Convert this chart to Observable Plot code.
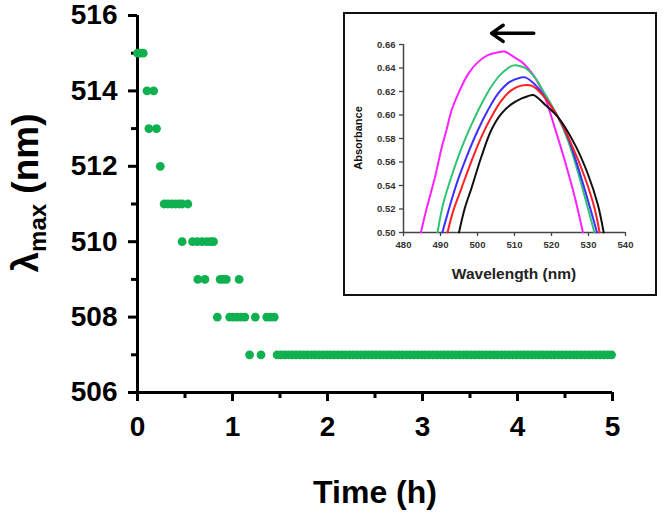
<!DOCTYPE html>
<html><head><meta charset="utf-8">
<script src="https://cdn.jsdelivr.net/npm/d3@7"></script>
<script src="https://cdn.jsdelivr.net/npm/@observablehq/plot@0.6"></script>
<style>
body{margin:0;background:#fff;overflow:hidden;}
#wrap{position:relative;width:664px;height:518px;overflow:hidden;font-family:Arial,"Liberation Sans",sans-serif;}
#main{position:absolute;left:0;top:0;width:664px;height:518px;z-index:1;}
#inset{position:absolute;left:343px;top:12px;width:310px;height:280px;border:2px solid #111;background:#fff;z-index:2;}
#inset svg,#main svg{display:block;}
</style></head><body>
<div id="wrap"><div id="inset"></div><div id="main"></div></div>
<script>
// ---- main chart data: time (h) at which each λmax (nm) was recorded ----
const lambdaValues = [515, 514, 513, 512, 511, 510, 509, 508, 507];
const times515 = [0.00, 0.03, 0.06];
const times514 = [0.10, 0.17];
const times513 = [0.12, 0.20];
const times512 = [0.24];
const times511 = [0.28, 0.32, 0.36, 0.40, 0.44, 0.47, 0.53];
const times510 = [0.47, 0.58, 0.63, 0.68, 0.73, 0.77, 0.80];
const times509 = [0.635, 0.71, 0.87, 0.90, 0.935, 1.07];
const times508 = [0.84, 0.97, 1.01, 1.05, 1.09, 1.13, 1.24, 1.36, 1.40, 1.44];
const times507 = [1.18, 1.30, 1.47,1.51,1.55,1.59,1.63,1.67,1.71,1.75,1.79,1.83,1.87,1.91,1.95,1.99,
  2.03,2.07,2.11,2.15,2.19,2.23,2.27,2.31,2.35,2.39,2.43,2.47,2.51,2.55,2.59,2.63,2.67,2.71,2.75,2.79,
  2.83,2.87,2.91,2.95,2.99,3.03,3.07,3.11,3.15,3.19,3.23,3.27,3.31,3.35,3.39,3.43,3.47,3.51,3.55,3.59,
  3.63,3.67,3.71,3.75,3.79,3.83,3.87,3.91,3.95,3.99,4.03,4.07,4.11,4.15,4.19,4.23,4.27,4.31,4.35,4.39,
  4.43,4.47,4.51,4.55,4.59,4.63,4.67,4.71,4.75,4.79,4.83,4.87,4.91,4.95,4.99];
const timeSeries = [times515, times514, times513, times512, times511, times510, times509, times508, times507];
const yMajorTicks = [506, 508, 510, 512, 514, 516];
const yMinorTicks = [507, 509, 511, 513, 515];
const xMajorTicks = [0, 1, 2, 3, 4, 5];
const xMinorTicks = [0.5, 1.5, 2.5, 3.5, 4.5];

// ---- inset data: [wavelength (nm), absorbance] ----
const spectrumMagenta = [[484.7,.500],[486.3,.521],[488.5,.547],[490.3,.572],[491.6,.587],[493,.604],[495.2,.621],[497.5,.635],[500.1,.645],[502.8,.651],[505.1,.653],[507.3,.654],[510,.649],[512,.645],[515.5,.632],[518.2,.615],[520.9,.589],[523.6,.561],[526.3,.530],[528.5,.500]];
const spectrumGreen = [[489.2,.500],[490.7,.524],[492.9,.547],[495.7,.572],[498.4,.592],[501,.609],[503.7,.624],[506.4,.635],[509.5,.642],[511,.642],[512.9,.640],[515.5,.632],[518.2,.618],[521.8,.598],[524.5,.578],[527.1,.552],[529.8,.521],[531.6,.500]];
const spectrumBlue = [[490.5,.500],[492.1,.518],[494.3,.541],[497,.564],[500.1,.587],[502.8,.604],[505.5,.618],[508.6,.628],[511.8,.632],[512.9,.632],[515.5,.626],[518.2,.615],[521.8,.598],[524.9,.577],[528,.547],[530.7,.518],[532.3,.500]];
const spectrumRed = [[491.9,.500],[493.4,.518],[495.7,.538],[498.4,.561],[501,.581],[503.7,.598],[506.4,.612],[509.1,.621],[511.8,.625],[514.6,.625],[517.3,.618],[521.8,.598],[525.4,.575],[529,.547],[531.6,.521],[533,.500]];
const spectrumBlack = [[495,.500],[496.6,.521],[498.4,.538],[501,.564],[503.7,.587],[506.4,.601],[509.1,.609],[511.8,.614],[513.6,.616],[515.1,.617],[518.2,.609],[521.8,.598],[526.3,.575],[529.8,.550],[532.5,.524],[534.1,.500]];
const spectra = [
  {name:"magenta", color:"#ff22ff", pts:spectrumMagenta},
  {name:"green", color:"#2ec473", pts:spectrumGreen},
  {name:"blue", color:"#3b30ff", pts:spectrumBlue},
  {name:"red", color:"#ff2020", pts:spectrumRed},
  {name:"black", color:"#111111", pts:spectrumBlack}
];
const insetYTicks = [0.50, 0.52, 0.54, 0.56, 0.58, 0.60, 0.62, 0.64, 0.66];
const insetXTicks = [480, 490, 500, 510, 520, 530, 540];
const arrowData = [{x1:515.2, x2:503.8, y:0.6695}];

// ---- build main chart ----
const rows = [];
lambdaValues.forEach((lam, i) => timeSeries[i].forEach(t => rows.push({t, lam})));

const font = 'Arial, "Liberation Sans", sans-serif';
const main = Plot.plot({
  width: 664, height: 518,
  marginLeft: 137, marginRight: 52, marginTop: 15, marginBottom: 126,
  x: {domain: [0, 5], label: null},
  y: {domain: [506, 516], label: null},
  style: {fontFamily: font, background: "transparent", color: "#000", overflow: "visible"},
  marks: [
    Plot.axisY(yMinorTicks, {tickSize: 6, stroke: "#000", strokeWidth: 3, tickFormat: () => "", label: null}),
    Plot.axisY(yMajorTicks, {tickSize: 9, stroke: "#000", strokeWidth: 3, tickPadding: 11, fontSize: 28, fontWeight: "bold", fill: "#000", tickFormat: d => String(d), label: null}),
    Plot.axisX(xMinorTicks, {tickSize: 6, stroke: "#000", strokeWidth: 3, tickFormat: () => "", label: null}),
    Plot.axisX(xMajorTicks, {tickSize: 9, stroke: "#000", strokeWidth: 3, tickPadding: 15, fontSize: 28, fontWeight: "bold", fill: "#000", tickFormat: d => String(d), label: null}),
    Plot.ruleX([0], {stroke: "#000", strokeWidth: 3}),
    Plot.ruleY([506], {stroke: "#000", strokeWidth: 3}),
    Plot.dot(rows, {x: "t", y: "lam", r: 4.4, fill: "#0fb04f"})
  ]
});
document.getElementById("main").appendChild(main);
{
  const svg = d3.select(main);
  const tt = svg.append("text")
    .attr("transform", "translate(38,193) rotate(-90)")
    .attr("text-anchor", "middle")
    .attr("font-family", font).attr("font-size", 37).attr("font-weight", "bold").attr("fill", "#000");
  tt.append("tspan").text("λ");
  tt.append("tspan").attr("font-size", 24).attr("dy", 8).text("max");
  tt.append("tspan").attr("dy", -8).text(" (nm)");
  svg.append("text")
    .attr("x", 375).attr("y", 503)
    .attr("text-anchor", "middle")
    .attr("font-family", font).attr("font-size", 32).attr("font-weight", "bold").attr("fill", "#000")
    .text("Time (h)");
}

// ---- build inset ----
const inset = Plot.plot({
  width: 310, height: 280,
  marginLeft: 58, marginRight: 30, marginTop: 30, marginBottom: 62,
  x: {domain: [480, 540], label: null},
  y: {domain: [0.50, 0.66], label: null},
  style: {fontFamily: font, background: "white", color: "#333", overflow: "visible"},
  marks: [
    Plot.axisY(insetYTicks, {tickSize: 4, tickPadding: 4, fontSize: 9.5, fontWeight: "bold", stroke: "#444", strokeWidth: 1.3, fill: "#333", tickFormat: d => d.toFixed(2), label: null}),
    Plot.axisX(insetXTicks, {tickSize: 4, tickPadding: 5, fontSize: 9.5, fontWeight: "bold", stroke: "#444", strokeWidth: 1.3, fill: "#333", tickFormat: d => String(d), label: null}),
    Plot.ruleX([480], {stroke: "#444", strokeWidth: 1.5}),
    Plot.ruleY([0.50], {stroke: "#444", strokeWidth: 1.5}),
    ...spectra.map(s => Plot.line(s.pts, {x: d => d[0], y: d => d[1], stroke: s.color, strokeWidth: 2, curve: "catmull-rom"})),
    Plot.arrow(arrowData, {x1: "x1", x2: "x2", y1: "y", y2: "y", stroke: "#000", strokeWidth: 3.5, headLength: 9, headAngle: 70})
  ]
});
document.getElementById("inset").appendChild(inset);
{
  const svg = d3.select(inset);
  svg.append("text")
    .attr("transform", "translate(17,124) rotate(-90)")
    .attr("text-anchor", "middle")
    .attr("font-family", font).attr("font-size", 11).attr("font-weight", "bold").attr("fill", "#111")
    .text("Absorbance");
  svg.append("text")
    .attr("x", 169).attr("y", 265)
    .attr("text-anchor", "middle")
    .attr("font-family", font).attr("font-size", 15.5).attr("font-weight", "bold").attr("fill", "#222")
    .text("Wavelength (nm)");
}
</script>
</body></html>
